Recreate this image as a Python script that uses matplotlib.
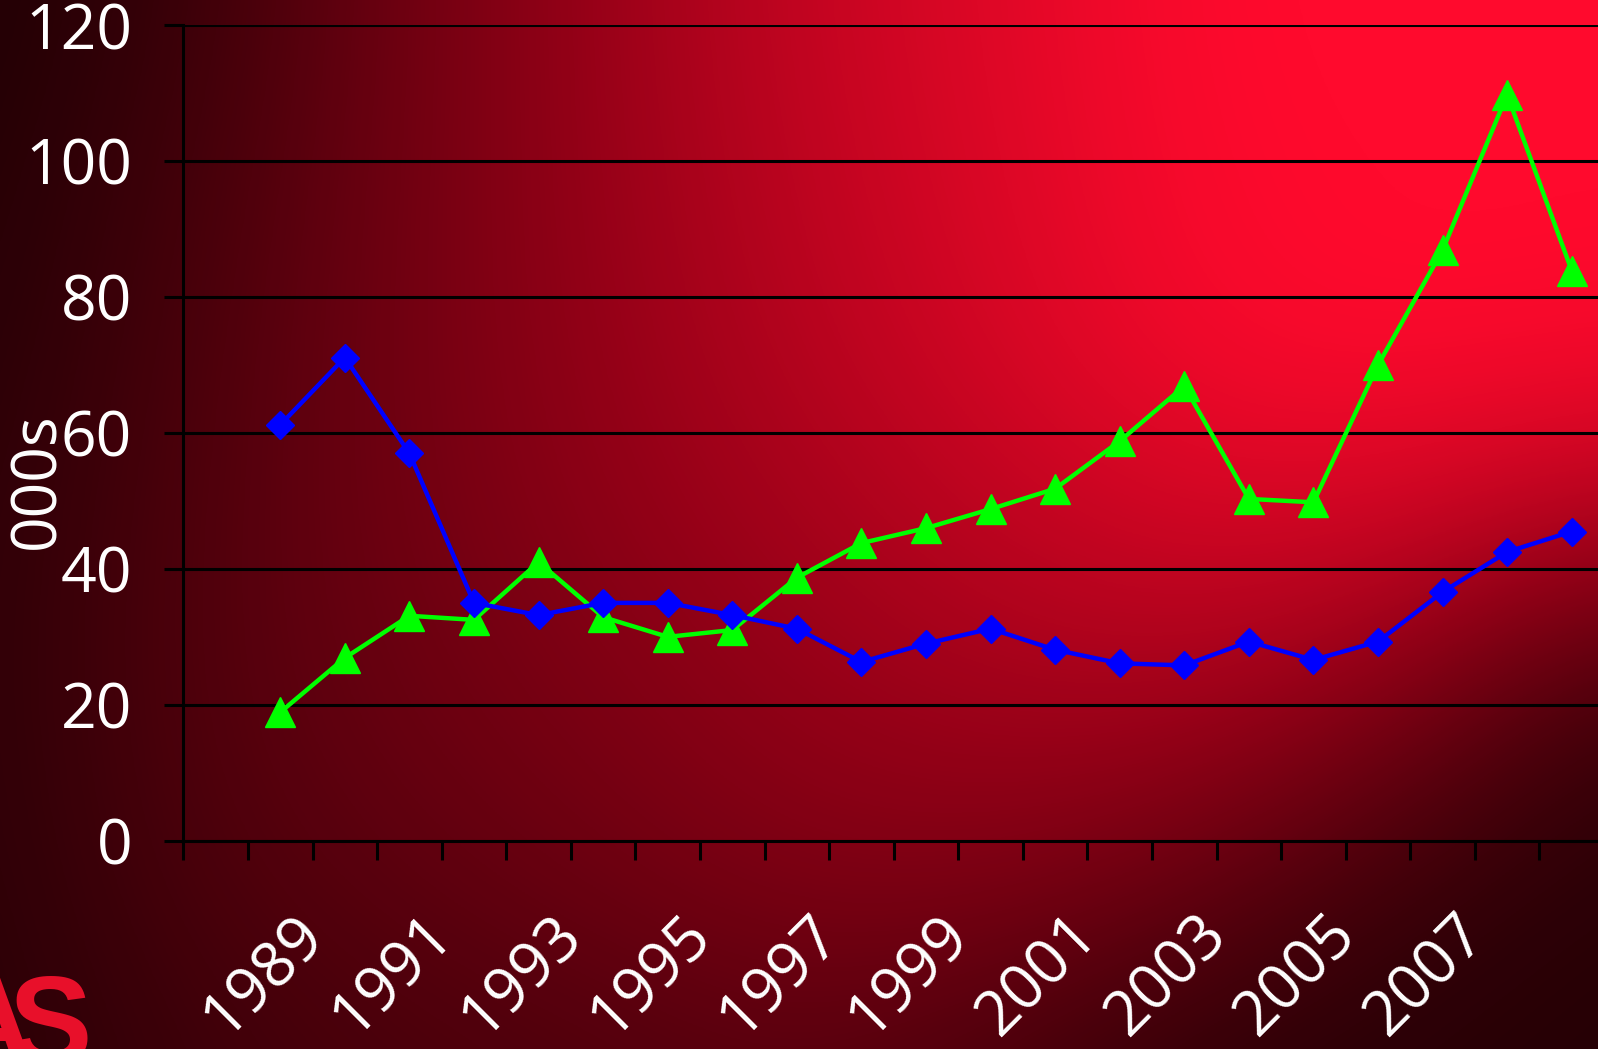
import numpy as np
import matplotlib
matplotlib.use("Agg")
import matplotlib.pyplot as plt
import matplotlib.transforms as mtransforms
from matplotlib.colors import LinearSegmentedColormap

# ---- data ----
years = list(range(1988, 2010))          # 22 category slots (first slot empty)
label_years = [1989, 1991, 1993, 1995, 1997, 1999, 2001, 2003, 2005, 2007]
data_years = list(range(1989, 2010))
blue_vals = [61.2, 71.1, 57.0, 35.0, 33.2, 35.0, 35.0, 33.2, 31.2, 26.3,
             29.0, 31.2, 28.1, 26.1, 25.8, 29.3, 26.6, 29.3, 36.6, 42.5, 45.5]
green_vals = [18.9, 26.9, 33.1, 32.5, 41.0, 32.9, 30.0, 31.0, 38.7, 43.8,
              46.0, 48.8, 51.8, 58.8, 66.9, 50.3, 49.8, 70.0, 86.9, 109.8, 83.9]
y_ticks = [0, 20, 40, 60, 80, 100, 120]
y_label = "000s"

W, H = 1598, 1049
fig = plt.figure(figsize=(W / 100, H / 100), dpi=100)

# ---- background gradient (coarse brightness samples, smoothly upscaled) ----
bg_levels = np.array([
    [32, 58, 110, 154, 196, 224, 255, 255, 255],
    [36, 68, 112, 152, 190, 220, 252, 255, 255],
    [40, 75, 114, 148, 182, 212, 245, 255, 250],
    [45, 80, 112, 140, 165, 190, 210, 205, 170],
    [46, 82, 105, 125, 148, 162, 165, 130, 60],
    [44, 76, 92, 108, 128, 128, 105, 60, 40],
    [42, 62, 74, 80, 90, 74, 48, 40, 38],
], dtype=float)
bg_cmap = LinearSegmentedColormap.from_list(
    "redbg", [(0.0, (30 / 255, 0, 4 / 255)),
              (0.5, (142 / 255, 0, 22 / 255)),
              (1.0, (1.0, 10 / 255, 45 / 255))])
bg = fig.add_axes([0, 0, 1, 1])
ny, nx = bg_levels.shape
cw, ch = W / (nx - 1), H / (ny - 1)
bg.imshow(bg_levels, cmap=bg_cmap, vmin=30, vmax=255, interpolation="bicubic",
          extent=[-cw / 2, W + cw / 2, H + ch / 2, -ch / 2], aspect="auto")
bg.set_xlim(0, W)
bg.set_ylim(H, 0)
bg.axis("off")

# ---- main axes ----
x0 = 183.4
x1 = 1604.0
left = x0 / W
bottom = 1 - 840.7 / H
top = 1 - 25.3 / H
ax = fig.add_axes([left, bottom, (x1 - x0) / W, top - bottom])
ax.set_facecolor("none")

xpos = {y: i for i, y in enumerate(years)}
bx = [xpos[y] for y in data_years]

ax.plot(bx, green_vals, color="#00FF00", lw=3.2, marker="^", ms=21,
        mec="#00FF00", mfc="#00FF00", zorder=3, clip_on=False)
ax.plot(bx, blue_vals, color="#0000FF", lw=3.2, marker="D", ms=14,
        mec="#0000FF", mfc="#0000FF", zorder=4, clip_on=False)

FONT = ["Open Sans", "DejaVu Sans"]
FS = 45

ax.set_xlim(-0.5, len(years) - 0.5)
ax.set_ylim(0, 120)
ax.set_yticks(y_ticks)
ax.set_yticklabels([str(v) for v in y_ticks], fontsize=FS, color="white",
                   family=FONT)
ax.set_xticks(np.arange(-0.5, len(years) - 0.5, 1.0))
ax.set_xticklabels([])
ax.tick_params(axis="y", length=14, width=2.2, color="black", pad=23)
ax.tick_params(axis="x", length=14, width=2.2, color="black")
ax.grid(axis="y", color="black", lw=2.2, zorder=1)
ax.set_axisbelow(True)
for s in ["top", "right"]:
    ax.spines[s].set_visible(False)
for s in ["left", "bottom"]:
    ax.spines[s].set_color("black")
    ax.spines[s].set_linewidth(2.2)

# rotated year labels
trans = mtransforms.blended_transform_factory(ax.transData, ax.transAxes)
off = mtransforms.ScaledTranslation(34 / 100, -85 / 100, fig.dpi_scale_trans)
for yr in label_years:
    ax.text(xpos[yr], 0, str(yr), transform=trans + off, rotation=45,
            rotation_mode="anchor", ha="right", va="center", fontsize=FS,
            color="white", family=FONT, clip_on=False)

fig.text(38 / W, 1 - 481 / H, y_label, rotation=90, ha="center", va="center",
         fontsize=FS, color="white", family=FONT)

# partial logo in bottom-left corner (cut by the picture edge)
LOGO_FONT = ["Liberation Sans Narrow", "Liberation Sans", "DejaVu Sans"]
fig.text(92 / W, -14 / H, "S", ha="right", va="baseline", fontsize=90,
         fontweight="bold", color="#E8102A", family=LOGO_FONT)
fig.text(34 / W, -14 / H, "A", ha="right", va="baseline", fontsize=90,
         fontweight="bold", color="#E8102A", family=LOGO_FONT)

fig.savefig("out.png", dpi=100)
